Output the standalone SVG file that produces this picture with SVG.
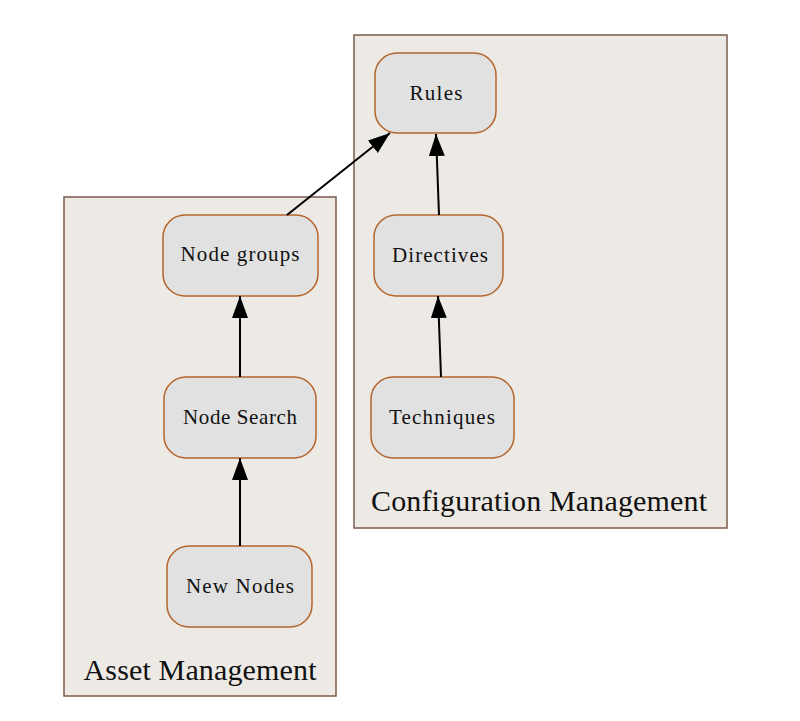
<svg xmlns="http://www.w3.org/2000/svg" width="800" height="721" viewBox="0 0 800 721">
<defs>
<marker id="arr" markerUnits="userSpaceOnUse" markerWidth="24" markerHeight="18" refX="22" refY="8" orient="auto">
<path d="M0,0 L22,8 L0,16 Z" fill="#000"/>
</marker>
<style>
.cl{fill:#ede9e4;stroke:#7a5c4c;stroke-width:1.5}
.nd{fill:#e1e1e1;stroke:#b4652c;stroke-width:1.5}
.t{font-family:"Liberation Serif","Times New Roman",serif;font-size:21px;fill:#111;text-anchor:middle}
.ct{font-family:"Liberation Serif","Times New Roman",serif;font-size:30px;fill:#111;text-anchor:middle}
.e{stroke:#000;stroke-width:2;fill:none;marker-end:url(#arr)}
</style>
</defs>
<rect width="800" height="721" fill="#fff"/>
<g id="cluster_config">
<rect class="cl" x="354" y="35" width="373" height="493"/>
<text class="ct" x="539" y="511" textLength="336">Configuration Management</text>
</g>
<g id="cluster_asset">
<rect class="cl" x="64" y="197" width="272" height="499"/>
<text class="ct" x="200" y="680" textLength="233">Asset Management</text>
</g>
<g id="rules"><rect class="nd" x="375" y="53" width="121" height="80" rx="22"/><text class="t" x="436" y="100" textLength="53">Rules</text></g>
<g id="directives"><rect class="nd" x="374" y="215" width="129" height="81" rx="22"/><text class="t" x="440" y="262" textLength="96">Directives</text></g>
<g id="techniques"><rect class="nd" x="371" y="377" width="143" height="81" rx="22"/><text class="t" x="442" y="424" textLength="106">Techniques</text></g>
<g id="nodegroups"><rect class="nd" x="163" y="215" width="155" height="81" rx="22"/><text class="t" x="240" y="261" textLength="119">Node groups</text></g>
<g id="nodesearch"><rect class="nd" x="164" y="377" width="152" height="81" rx="22"/><text class="t" x="240" y="424" textLength="114">Node Search</text></g>
<g id="newnodes"><rect class="nd" x="167" y="546" width="145" height="81" rx="22"/><text class="t" x="240" y="593" textLength="108">New Nodes</text></g>
<g id="edges">
<path class="e" d="M439,215 L436,134"/>
<path class="e" d="M441,377 L438,296"/>
<path class="e" d="M240,377 L240,296"/>
<path class="e" d="M240,546 L240,458"/>
<path class="e" d="M287,215 L390,133"/>
</g>
</svg>
